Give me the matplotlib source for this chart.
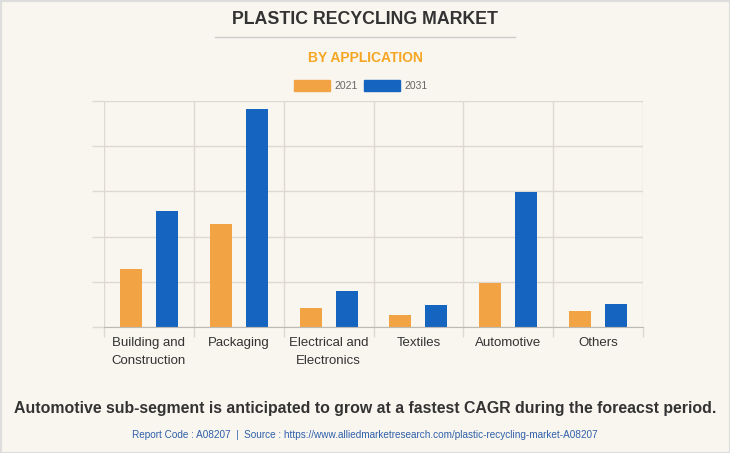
import matplotlib
matplotlib.use("Agg")
import matplotlib.pyplot as plt
import numpy as np
from matplotlib.patches import Rectangle
from matplotlib.lines import Line2D

plt.rcParams["font.family"] = ["Liberation Sans", "DejaVu Sans"]

# ---------------------------------------------------------------------------
# Data (arbitrary units)
# ---------------------------------------------------------------------------
categories = ["Building and\nConstruction", "Packaging", "Electrical and\nElectronics",
              "Textiles", "Automotive", "Others"]
years = ["2021", "2031"]
values_2021 = [1.28, 2.28, 0.42, 0.27, 0.97, 0.35]
values_2031 = [2.57, 4.82, 0.80, 0.49, 2.99, 0.51]

ORANGE = "#F2A444"
BLUE = "#1565C0"
BG = "#F9F6EF"
GRID = "#DDD9D2"

fig = plt.figure(figsize=(7.3, 4.53), dpi=100, facecolor=BG)
ax = fig.add_axes([104 / 730, 1 - 327 / 453, (643 - 104) / 730, (327 - 101) / 453])
ax.set_facecolor(BG)

x = np.arange(len(categories))
width = 0.245
ax.bar(x - 0.2, values_2021, width, color=ORANGE, zorder=3)
ax.bar(x + 0.2, values_2031, width, color=BLUE, zorder=3)

ax.set_xlim(-0.5, len(categories) - 0.5)
ax.set_ylim(0, 5)

# category labels at centers, grid at the boundaries
ax.set_xticks(x)
ax.set_xticklabels(categories, fontsize=9.5, color="#333333", linespacing=1.75)
ax.tick_params(axis="x", which="major", length=0, pad=7)
ax.set_xticks(np.arange(-0.5, len(categories)), minor=True)
ax.tick_params(axis="x", which="minor", length=7, color=GRID, width=1)
ax.grid(axis="x", which="minor", color=GRID, linewidth=1, zorder=0)

ax.set_yticks(np.arange(0, 6))
ax.set_yticklabels([])
ax.tick_params(axis="y", length=9, color=GRID, width=1)
ax.grid(axis="y", color=GRID, linewidth=1, zorder=0)

for side in ["top", "right", "left"]:
    ax.spines[side].set_visible(False)
ax.spines["bottom"].set_color("#BDBAB4")
ax.spines["bottom"].set_zorder(4)

# titles
fig.text(0.5, 1 - 20 / 453, "PLASTIC RECYCLING MARKET", ha="center", va="center",
         fontsize=12.8, fontweight="bold", color="#333333")
fig.add_artist(Line2D([215 / 730, 515 / 730], [1 - 37 / 453, 1 - 37 / 453],
                      color="#CCCCCC", linewidth=1))
fig.text(0.5, 1 - 58 / 453, "BY APPLICATION", ha="center", va="center",
         fontsize=10, fontweight="bold", color="#F5A623")

# legend
for i, (lab, col) in enumerate(zip(years, [ORANGE, BLUE])):
    x0 = (294 + i * 70) / 730
    fig.add_artist(Rectangle((x0, 1 - 91 / 453), 36 / 730, 11 / 453,
                             transform=fig.transFigure, color=col))
    fig.text(x0 + 40 / 730, 1 - 86 / 453, lab, ha="left", va="center",
             fontsize=7.5, color="#666666")

fig.text(0.5, 1 - 408 / 453,
         "Automotive sub-segment is anticipated to grow at a fastest CAGR during the foreacst period.",
         ha="center", va="center", fontsize=11.4, fontweight="bold", color="#333333")
fig.text(0.5, 1 - 435 / 453,
         "Report Code : A08207  |  Source : https://www.alliedmarketresearch.com/plastic-recycling-market-A08207",
         ha="center", va="center", fontsize=7.2, color="#2E5FAA")

fig.add_artist(Rectangle((0.5 / 730, 0.5 / 453), 729 / 730, 452 / 453, transform=fig.transFigure,
                         fill=False, edgecolor="#DDDDDD", linewidth=1.5))

fig.savefig("out.png", dpi=100, facecolor=BG)
